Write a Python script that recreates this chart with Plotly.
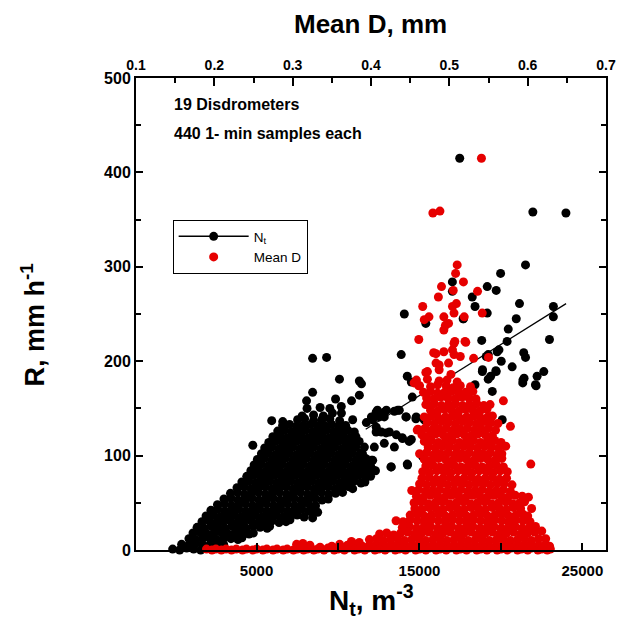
import plotly.graph_objects as go

FONT = "Liberation Sans, Arial, sans-serif"

# ---- axis ticks ----
nt_tick_vals = [5000, 10000, 15000, 20000, 25000]
nt_tick_text = ["5000", "", "15000", "", "25000"]
d_tick_vals = [0.1, 0.2, 0.3, 0.4, 0.5, 0.6, 0.7]
d_tick_text = ["0.1", "0.2", "0.3", "0.4", "0.5", "0.6", "0.7"]
d_minor_vals = [0.15, 0.25, 0.35, 0.45, 0.55, 0.65]
r_tick_vals = [0, 100, 200, 300, 400, 500]
r_tick_text = ["0", "100", "200", "300", "400", "500"]

# ---- N_t (m^-3) vs R (mm/h) : black points ----
black_points = [
    (-150, 1), (280, 0), (710, 2), (1140, 1), (1570, 0), (1900, 2),
    (400, 6), (830, 5), (1260, 7), (1690, 6), (2120, 5), (2550, 7), (2980, 6),
    (850, 12), (1280, 11), (1710, 13), (2140, 12), (2570, 11), (3000, 13), (3430, 12), (3860, 11), (4100, 13),
    (1100, 18), (1530, 19), (1960, 17), (2390, 18), (2820, 19), (3250, 17), (3680, 18), (4110, 19), (4540, 17), (4800, 18),
    (1350, 24), (1780, 23), (2210, 25), (2640, 24), (3070, 23), (3500, 25), (3930, 24), (4360, 23), (4790, 25), (5220, 24), (5650, 23), (5800, 25),
    (1650, 30), (2080, 31), (2510, 29), (2940, 30), (3370, 31), (3800, 29), (4230, 30), (4660, 31), (5090, 29), (5520, 30), (5950, 31), (6380, 29), (6810, 30), (7050, 32),
    (1900, 36), (2330, 37), (2760, 35), (3190, 36), (3620, 37), (4050, 35), (4480, 36), (4910, 37), (5340, 35), (5770, 36), (6200, 37), (6630, 35), (7060, 36), (7490, 37), (7920, 35),
    (8440, 34), (8750, 40),
    (2200, 42), (2630, 43), (3060, 41), (3490, 42), (3920, 43), (4350, 41), (4780, 42), (5210, 43), (5640, 41), (6070, 42), (6500, 43), (6930, 41), (7360, 42), (7790, 43), (8220, 41), (8450, 42),
    (2600, 48), (3030, 49), (3460, 47), (3890, 48), (4320, 49), (4750, 47), (5180, 48), (5610, 49), (6040, 47), (6470, 48), (6900, 49), (7330, 47), (7760, 48), (8190, 49), (8620, 47),
    (3000, 54), (3430, 55), (3860, 53), (4290, 54), (4720, 55), (5150, 53), (5580, 54), (6010, 55), (6440, 53), (6870, 54), (7300, 55), (7730, 53), (8160, 54), (8590, 55), (9020, 53), (9400, 54),
    (3400, 60), (3830, 61), (4260, 59), (4690, 60), (5120, 61), (5550, 59), (5980, 60), (6410, 61), (6840, 59), (7270, 60), (7700, 61), (8130, 59), (8560, 60), (8990, 61), (9420, 59), (9850, 60), (10280, 61),
    (3800, 66), (4230, 67), (4660, 65), (5090, 66), (5520, 67), (5950, 65), (6380, 66), (6810, 67), (7240, 65), (7670, 66), (8100, 67), (8530, 65), (8960, 66), (9390, 67), (9820, 65), (10250, 66), (10680, 67), (10900, 65),
    (4100, 72), (4530, 73), (4960, 71), (5390, 72), (5820, 73), (6250, 71), (6680, 72), (7110, 73), (7540, 71), (7970, 72), (8400, 73), (8830, 71), (9260, 72), (9690, 73), (10120, 71), (10550, 72), (10980, 73), (11410, 71), (11650, 72),
    (4400, 78), (4830, 79), (5260, 77), (5690, 78), (6120, 79), (6550, 77), (6980, 78), (7410, 79), (7840, 77), (8270, 78), (8700, 79), (9130, 77), (9560, 78), (9990, 79), (10420, 77), (10850, 78), (11280, 79), (11710, 77), (12000, 78),
    (4650, 84), (5080, 85), (5510, 83), (5940, 84), (6370, 85), (6800, 83), (7230, 84), (7660, 85), (8090, 83), (8520, 84), (8950, 85), (9380, 83), (9810, 84), (10240, 85), (10670, 83), (11100, 84), (11530, 85), (11960, 83), (12300, 84),
    (4850, 90), (5280, 91), (5710, 89), (6140, 90), (6570, 91), (7000, 89), (7430, 90), (7860, 91), (8290, 89), (8720, 90), (9150, 91), (9580, 89), (10010, 90), (10440, 91), (10870, 89), (11300, 90), (11730, 91), (12000, 89),
    (5050, 96), (5480, 97), (5910, 95), (6340, 96), (6770, 97), (7200, 95), (7630, 96), (8060, 97), (8490, 95), (8920, 96), (9350, 97), (9780, 95), (10210, 96), (10640, 97), (11070, 95), (11500, 96), (11700, 97),
    (5300, 102), (5730, 103), (6160, 101), (6590, 102), (7020, 103), (7450, 101), (7880, 102), (8310, 103), (8740, 101), (9170, 102), (9600, 103), (10030, 101), (10460, 102), (10890, 103), (11320, 101), (11500, 102),
    (4770, 111), (5500, 108), (5930, 109), (6360, 107), (6790, 108), (7220, 109), (7650, 107), (8080, 108), (8510, 109), (8940, 107), (9370, 108), (9800, 109), (10230, 107), (10660, 108), (11090, 109),
    (5750, 114), (6180, 115), (6610, 113), (7040, 114), (7470, 115), (7900, 113), (8330, 114), (8760, 115), (9190, 113), (9620, 114), (10050, 115), (10480, 113), (10910, 114), (11300, 115),
    (6000, 120), (6430, 121), (6860, 119), (7290, 120), (7720, 121), (8150, 119), (8580, 120), (9010, 121), (9440, 119), (9870, 120), (10300, 121), (10730, 119), (11100, 120),
    (6300, 126), (6730, 127), (7160, 125), (7590, 126), (8020, 127), (8450, 125), (8880, 126), (9310, 127), (9740, 125), (10170, 126), (10600, 127), (11000, 125),
    (6600, 132), (7030, 133), (7460, 131), (7890, 132), (8320, 133), (8750, 131), (9180, 132), (9610, 133), (10040, 131), (10470, 132),
    (5930, 137), (6610, 136), (7520, 138), (7950, 139), (8500, 137), (9000, 138), (9500, 139), (10100, 137), (10900, 138),
    (7800, 142), (8500, 143), (9100, 142), (9660, 145), (10210, 145),
    (8100, 150), (8900, 151), (9500, 150), (10200, 152),
    (8070, 158), (8440, 167), (9850, 160), (10830, 158), (11310, 164), (10090, 181), (11310, 179), (11440, 176),
    (8440, 203), (9300, 204),
    (12420, 148), (12970, 148), (13460, 147), (13760, 148), (12050, 141), (12540, 141), (12840, 141), (14190, 141), (14800, 141),
    (11740, 135), (12350, 130), (12660, 125), (13150, 125), (13580, 122), (13940, 119), (14500, 117), (13460, 109), (14250, 91),
    (13270, 88), (12050, 95), (11620, 109), (11440, 103), (12340, 146), (12840, 146), (13660, 148), (14170, 141), (14780, 139),
    (15290, 138), (12130, 138), (12340, 125), (12950, 124), (12840, 113), (12230, 109), (13960, 118), (14370, 115), (15190, 99),
    (12130, 95), (12130, 85), (13250, 88), (14270, 90),
    (13880, 207), (14250, 184), (14500, 178), (14560, 162),
    (17470, 415), (21960, 358), (23990, 357), (21510, 302), (19980, 293), (19160, 279), (19710, 275), (18240, 268),
    (18410, 258), (19160, 251), (21140, 261), (23220, 258), (23220, 247), (20940, 245), (20450, 234), (22980, 223),
    (18820, 222), (20380, 221), (19880, 212), (19770, 210), (21400, 209), (21510, 204), (20020, 200), (19100, 205),
    (20690, 194), (22630, 189), (22220, 184), (22160, 174), (19710, 189), (18860, 189), (19370, 184), (21350, 180),
    (18410, 175), (19470, 168), (22120, 175), (14070, 250), (15390, 240), (17020, 284), (17020, 274), (17680, 245),
    (19220, 207), (19220, 181), (21340, 177), (20080, 138), (17700, 245), (18870, 191), (19690, 190), (21420, 182),
]

# ---- Mean D (mm) vs R (mm/h) : red points ----
red_points = [
    (0.541, 415), (0.479, 357), (0.488, 359), (0.510, 302), (0.508, 293), (0.518, 284), (0.490, 279),
    (0.486, 268), (0.505, 275), (0.536, 274), (0.466, 258), (0.474, 247), (0.468, 244), (0.493, 247),
    (0.504, 258), (0.509, 261), (0.506, 251), (0.519, 247), (0.542, 251), (0.495, 238), (0.493, 233),
    (0.499, 240), (0.461, 223), (0.507, 221), (0.520, 221), (0.483, 208), (0.493, 210), (0.504, 212),
    (0.514, 205), (0.531, 203), (0.550, 204), (0.483, 198), (0.499, 198), (0.472, 189), (0.487, 191),
    (0.502, 186), (0.470, 188), (0.455, 177), (0.461, 174), (0.470, 154), (0.459, 127), (0.468, 120),
    (0.470, 95), (0.506, 219), (0.521, 220), (0.480, 209), (0.506, 207), (0.487, 196),
    (0.569, 158), (0.578, 131), (0.604, 91),
    (0.458, 180), (0.472, 181), (0.487, 179), (0.497, 180), (0.510, 178),
    (0.462, 174), (0.476, 173), (0.485, 175), (0.496, 174), (0.505, 172), (0.514, 174), (0.527, 173),
    (0.467, 167), (0.476, 168), (0.485, 166), (0.494, 167), (0.503, 168), (0.512, 166), (0.521, 167), (0.530, 168),
    (0.471, 161), (0.480, 160), (0.489, 162), (0.498, 161), (0.507, 160), (0.516, 162), (0.525, 161), (0.534, 160),
    (0.472, 154), (0.481, 155), (0.490, 153), (0.499, 154), (0.508, 155), (0.517, 153), (0.526, 154), (0.535, 155), (0.544, 153), (0.552, 154),
    (0.476, 148), (0.485, 147), (0.494, 149), (0.503, 148), (0.512, 147), (0.521, 149), (0.530, 148), (0.539, 147), (0.548, 149),
    (0.468, 141), (0.477, 142), (0.486, 140), (0.495, 141), (0.504, 142), (0.513, 140), (0.522, 141), (0.531, 142), (0.540, 140), (0.549, 141), (0.555, 142),
    (0.472, 135), (0.481, 134), (0.490, 136), (0.499, 135), (0.508, 134), (0.517, 136), (0.526, 135), (0.535, 134), (0.544, 136), (0.553, 135), (0.562, 134),
    (0.460, 128), (0.469, 129), (0.478, 127), (0.487, 128), (0.496, 129), (0.505, 127), (0.514, 128), (0.523, 129), (0.532, 127), (0.541, 128), (0.550, 129), (0.559, 127),
    (0.465, 122), (0.474, 121), (0.483, 123), (0.492, 122), (0.501, 121), (0.510, 123), (0.519, 122), (0.528, 121), (0.537, 123), (0.546, 122), (0.555, 121),
    (0.468, 115), (0.477, 116), (0.486, 114), (0.495, 115), (0.504, 116), (0.513, 114), (0.522, 115), (0.531, 116), (0.540, 114), (0.549, 115), (0.558, 116), (0.566, 114),
    (0.473, 109), (0.482, 108), (0.491, 110), (0.500, 109), (0.509, 108), (0.518, 110), (0.527, 109), (0.536, 108), (0.545, 110), (0.554, 109), (0.563, 108), (0.572, 110),
    (0.462, 102), (0.471, 103), (0.480, 101), (0.489, 102), (0.498, 103), (0.507, 101), (0.516, 102), (0.525, 103), (0.534, 101), (0.543, 102), (0.552, 103), (0.561, 101), (0.567, 102),
    (0.468, 96), (0.477, 95), (0.486, 97), (0.495, 96), (0.504, 95), (0.513, 97), (0.522, 96), (0.531, 95), (0.540, 97), (0.549, 96), (0.558, 95), (0.567, 97),
    (0.470, 89), (0.479, 90), (0.488, 88), (0.497, 89), (0.506, 90), (0.515, 88), (0.524, 89), (0.533, 90), (0.542, 88), (0.551, 89), (0.560, 90), (0.569, 88),
    (0.466, 83), (0.475, 82), (0.484, 84), (0.493, 83), (0.502, 82), (0.511, 84), (0.520, 83), (0.529, 82), (0.538, 84), (0.547, 83), (0.556, 82), (0.565, 84), (0.574, 83),
    (0.465, 76), (0.474, 77), (0.483, 75), (0.492, 76), (0.501, 77), (0.510, 75), (0.519, 76), (0.528, 77), (0.537, 75), (0.546, 76), (0.555, 77), (0.564, 75), (0.573, 76),
    (0.462, 70), (0.471, 69), (0.480, 71), (0.489, 70), (0.498, 69), (0.507, 71), (0.516, 70), (0.525, 69), (0.534, 71), (0.543, 70), (0.552, 69), (0.561, 71), (0.570, 70), (0.580, 69),
    (0.452, 63), (0.461, 64), (0.470, 62), (0.479, 63), (0.488, 64), (0.497, 62), (0.506, 63), (0.515, 64), (0.524, 62), (0.533, 63), (0.542, 64), (0.551, 62), (0.560, 63), (0.569, 64), (0.578, 62),
    (0.458, 57), (0.467, 56), (0.476, 58), (0.485, 57), (0.494, 56), (0.503, 58), (0.512, 57), (0.521, 56), (0.530, 58), (0.539, 57), (0.548, 56), (0.557, 58), (0.566, 57), (0.575, 56), (0.584, 58), (0.593, 57), (0.601, 56),
    (0.455, 50), (0.464, 51), (0.473, 49), (0.482, 50), (0.491, 51), (0.500, 49), (0.509, 50), (0.518, 51), (0.527, 49), (0.536, 50), (0.545, 51), (0.554, 49), (0.563, 50), (0.572, 51), (0.581, 49), (0.590, 50), (0.596, 51),
    (0.456, 44), (0.465, 43), (0.474, 45), (0.483, 44), (0.492, 43), (0.501, 45), (0.510, 44), (0.519, 43), (0.528, 45), (0.537, 44), (0.546, 43), (0.555, 45), (0.564, 44), (0.573, 43), (0.582, 45), (0.591, 44), (0.605, 44),
    (0.450, 37), (0.459, 38), (0.468, 36), (0.477, 37), (0.486, 38), (0.495, 36), (0.504, 37), (0.513, 38), (0.522, 36), (0.531, 37), (0.540, 38), (0.549, 36), (0.558, 37), (0.567, 38), (0.576, 36), (0.585, 37), (0.594, 38), (0.600, 36),
    (0.432, 31), (0.441, 30), (0.450, 32), (0.459, 31), (0.468, 30), (0.477, 32), (0.486, 31), (0.495, 30), (0.504, 32), (0.513, 31), (0.522, 30), (0.531, 32), (0.540, 31), (0.549, 30), (0.558, 32), (0.567, 31), (0.576, 30), (0.585, 32), (0.594, 31), (0.603, 30),
    (0.440, 24), (0.449, 25), (0.458, 23), (0.467, 24), (0.476, 25), (0.485, 23), (0.494, 24), (0.503, 25), (0.512, 23), (0.521, 24), (0.530, 25), (0.539, 23), (0.548, 24), (0.557, 25), (0.566, 23), (0.575, 24), (0.584, 25), (0.593, 23), (0.602, 24), (0.610, 25),
    (0.411, 17), (0.420, 18), (0.429, 16), (0.438, 18), (0.447, 19), (0.456, 17), (0.465, 18), (0.474, 19), (0.483, 17), (0.492, 18), (0.501, 19), (0.510, 17), (0.519, 18), (0.528, 19), (0.537, 17), (0.546, 18), (0.555, 19), (0.564, 17), (0.573, 18), (0.582, 19), (0.591, 17), (0.600, 18), (0.609, 19), (0.618, 20),
    (0.398, 11), (0.407, 12), (0.416, 10), (0.425, 11), (0.434, 12), (0.443, 10), (0.452, 11), (0.461, 12), (0.470, 10), (0.479, 11), (0.488, 12), (0.497, 10), (0.506, 11), (0.515, 12), (0.524, 10), (0.533, 11), (0.542, 12), (0.551, 10), (0.560, 11), (0.569, 12), (0.578, 10), (0.587, 11), (0.596, 12), (0.605, 10), (0.614, 12), (0.623, 12),
    (0.370, 5), (0.380, 6), (0.389, 4), (0.398, 5), (0.407, 6), (0.416, 4), (0.425, 5), (0.434, 6), (0.443, 4), (0.452, 5), (0.461, 6), (0.470, 4), (0.479, 5), (0.488, 6), (0.497, 4), (0.506, 5), (0.515, 6), (0.524, 4), (0.533, 5), (0.542, 6), (0.551, 4), (0.560, 5), (0.569, 6), (0.578, 4), (0.587, 5), (0.596, 6), (0.605, 4), (0.614, 5), (0.623, 6), (0.628, 4),
    (0.305, 6), (0.313, 7), (0.322, 5), (0.335, 3), (0.350, 4), (0.360, 6), (0.375, 9), (0.385, 8),
    (0.190, 1), (0.197, 0), (0.202, 1), (0.209, 0), (0.215, 1), (0.222, 0), (0.228, 1), (0.236, 0), (0.241, 1), (0.249, 0),
    (0.254, 1), (0.262, 0), (0.267, 1), (0.275, 0), (0.280, 1), (0.288, 0), (0.293, 1), (0.301, 0), (0.306, 1), (0.314, 0),
    (0.319, 1), (0.327, 0), (0.332, 1), (0.340, 0), (0.345, 2), (0.353, 0), (0.358, 1), (0.366, 0), (0.371, 2), (0.379, 0),
    (0.384, 1), (0.392, 0), (0.397, 2), (0.405, 0), (0.410, 1), (0.418, 0), (0.423, 2), (0.431, 0), (0.436, 1), (0.444, 0),
    (0.449, 2), (0.457, 0), (0.462, 1), (0.470, 0), (0.475, 2), (0.483, 0), (0.488, 1), (0.496, 0), (0.501, 2), (0.509, 0),
    (0.514, 1), (0.522, 0), (0.527, 2), (0.535, 0), (0.540, 1), (0.548, 0), (0.553, 2), (0.561, 0), (0.566, 1), (0.574, 0),
    (0.579, 2), (0.587, 0), (0.592, 1), (0.600, 0), (0.605, 2), (0.613, 0), (0.618, 1), (0.625, 0), (0.629, 1),
]

# ---- linear fit of R on N_t ----
fit_nt = [11700, 24000]
fit_r = [128, 261]

black_nt = [p[0] for p in black_points]
black_r = [p[1] for p in black_points]
red_d = [p[0] for p in red_points]
red_r = [p[1] for p in red_points]

BLACK = "#000000"
RED = "#e60000"

fig = go.Figure()
fig.add_trace(go.Scatter(x=black_nt, y=black_r, mode="markers", xaxis="x", yaxis="y",
                         marker=dict(color=BLACK, size=9, line=dict(width=0)),
                         cliponaxis=False, showlegend=False))
fig.add_trace(go.Scatter(x=fit_nt, y=fit_r, mode="lines", xaxis="x", yaxis="y",
                         line=dict(color=BLACK, width=1.2), showlegend=False))
fig.add_trace(go.Scatter(x=red_d, y=red_r, mode="markers", xaxis="x2", yaxis="y",
                         marker=dict(color=RED, size=9, line=dict(width=0)),
                         cliponaxis=False, showlegend=False))
# legend entries
fig.add_trace(go.Scatter(x=[None], y=[None], mode="lines+markers", name="N<sub>t</sub>",
                         line=dict(color=BLACK, width=1.5), marker=dict(color=BLACK, size=9)))
fig.add_trace(go.Scatter(x=[None], y=[None], mode="markers", name="Mean D", xaxis="x2",
                         marker=dict(color=RED, size=9)))

tickfont = dict(family=FONT, size=15, color="black", weight="bold")

# The page body has an 8px default margin, so the figure is 8px smaller and margins shifted.
fig.update_layout(
    width=620, height=617,
    margin=dict(l=128, r=20, t=70, b=75),
    paper_bgcolor="white", plot_bgcolor="white",
    font=dict(family=FONT, color="black"),
    xaxis=dict(range=[-2400, 26450], tickvals=nt_tick_vals, ticktext=nt_tick_text,
               ticks="inside", ticklen=7, tickwidth=2, tickcolor="black",
               showline=True, linewidth=2, linecolor="black", mirror=False,
               showgrid=False, zeroline=False, tickfont=tickfont, ticklabelstandoff=6),
    xaxis2=dict(range=[0.1, 0.7], overlaying="x", side="top", anchor="y",
                tickvals=d_tick_vals, ticktext=d_tick_text,
                ticks="inside", ticklen=8, tickwidth=2, tickcolor="black",
                minor=dict(tickvals=d_minor_vals, ticks="inside", ticklen=5, tickwidth=2, tickcolor="black"),
                showline=True, linewidth=2, linecolor="black",
                showgrid=False, zeroline=False,
                tickfont=dict(family=FONT, size=14, color="black", weight="bold")),
    yaxis=dict(range=[0, 500], tickvals=r_tick_vals, ticktext=r_tick_text,
               ticks="inside", ticklen=7, tickwidth=2, tickcolor="black",
               minor=dict(dtick=50, ticks="inside", ticklen=5, tickwidth=2, tickcolor="black"),
               showline=True, linewidth=2, linecolor="black", mirror="ticks",
               showgrid=False, zeroline=False,
               tickfont=dict(family=FONT, size=16, color="black", weight="bold")),
    legend=dict(x=0.078, y=0.699, xanchor="left", yanchor="top",
                bordercolor="black", borderwidth=1, bgcolor="white",
                font=dict(family=FONT, size=13.5, color="black"),
                itemwidth=70, tracegroupgap=0),
    annotations=[
        dict(text="19 Disdrometers", x=0.076, y=0.943, xref="paper", yref="paper",
             xanchor="left", yanchor="middle", showarrow=False,
             font=dict(family=FONT, size=16, color="black", weight="bold")),
        dict(text="440 1- min samples each", x=0.076, y=0.883, xref="paper", yref="paper",
             xanchor="left", yanchor="middle", showarrow=False,
             font=dict(family=FONT, size=16, color="black", weight="bold")),
        dict(text="Mean D, mm", x=0.498, y=1.114, xref="paper", yref="paper",
             xanchor="center", yanchor="middle", showarrow=False,
             font=dict(family=FONT, size=26, color="black", weight="bold")),
        dict(text="N<sub>t</sub>, m<sup>-3</sup>", x=0.5, y=-0.106, xref="paper", yref="paper",
             xanchor="center", yanchor="middle", showarrow=False,
             font=dict(family=FONT, size=28, color="black", weight="bold")),
        dict(text="R, mm h<sup>-1</sup>", x=-0.22, y=0.477, xref="paper", yref="paper",
             xanchor="center", yanchor="middle", showarrow=False, textangle=-90,
             font=dict(family=FONT, size=27, color="black", weight="bold")),
    ],
)

fig.write_html("out.html")
